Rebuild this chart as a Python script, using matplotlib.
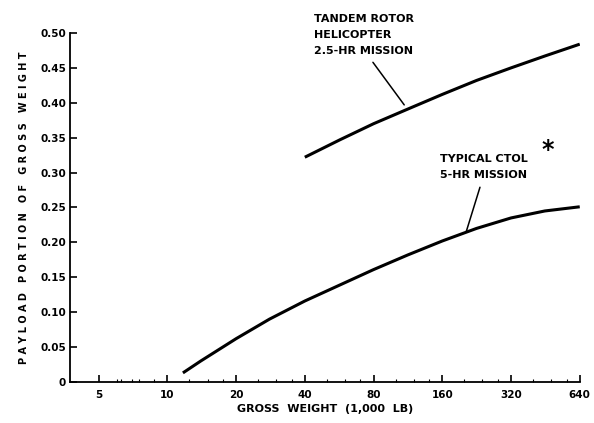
import numpy as np
import matplotlib
matplotlib.use("Agg")
import matplotlib.pyplot as plt
from matplotlib.ticker import FixedLocator, NullFormatter

# gross weight (1,000 lb) vs payload fraction
heli_gw = [40, 57, 80, 113, 160, 226, 320, 450, 640]
heli_pl = [0.322, 0.347, 0.370, 0.391, 0.412, 0.432, 0.450, 0.467, 0.484]

ctol_gw = [11.7, 14, 20, 28, 40, 57, 80, 113, 160, 226, 320, 450, 640]
ctol_pl = [0.013, 0.030, 0.062, 0.090, 0.116, 0.139, 0.161, 0.182, 0.202, 0.220, 0.235, 0.245, 0.251]

x_ticks = [5, 10, 20, 40, 80, 160, 320, 640]
x_labels = ["5", "10", "20", "40", "80", "160", "320", "640"]
y_ticks = [0, 0.05, 0.10, 0.15, 0.20, 0.25, 0.30, 0.35, 0.40, 0.45, 0.50]
y_labels = ["0", "0.05", "0.10", "0.15", "0.20", "0.25", "0.30", "0.35", "0.40", "0.45", "0.50"]

plt.rcParams["font.family"] = "DejaVu Sans"
plt.rcParams["font.weight"] = "bold"

fig = plt.figure(figsize=(5.94, 4.23), dpi=100)
ax = fig.add_axes([0.118, 0.097, 0.858, 0.825])

ax.plot(heli_gw, heli_pl, color="black", lw=2.2, solid_capstyle="butt")
ax.plot(ctol_gw, ctol_pl, color="black", lw=2.2, solid_capstyle="butt")

ax.set_xscale("log", base=2)
ax.set_xlim(3.75, 640)
ax.set_ylim(0, 0.50)

ax.xaxis.set_major_locator(FixedLocator(x_ticks))
ax.set_xticklabels(x_labels)
minor = [v * f for v in [4] + x_ticks[:-1] for f in (1.25, 1.5, 1.75)]
minor = [m for m in minor if 3.75 < m < 640]
ax.xaxis.set_minor_locator(FixedLocator(minor))
ax.xaxis.set_minor_formatter(NullFormatter())
ax.set_yticks(y_ticks)
ax.set_yticklabels(y_labels)

ax.tick_params(axis="x", which="major", direction="in", length=5, width=1.2, labelsize=7.5, pad=6)
ax.tick_params(axis="x", which="minor", direction="in", length=2, width=0.8)
ax.tick_params(axis="y", direction="in", length=5, width=1.2, labelsize=7.5, pad=3)
for lab in ax.get_xticklabels() + ax.get_yticklabels():
    lab.set_fontweight("bold")

for s in ["top", "right"]:
    ax.spines[s].set_visible(False)
for s in ["left", "bottom"]:
    ax.spines[s].set_linewidth(1.3)

ax.set_xlabel("GROSS  WEIGHT  (1,000  LB)", fontsize=8, fontweight="bold", labelpad=3)
ax.set_ylabel("P A Y L O A D   P O R T I O N   O F   G R O S S   W E I G H T",
              fontsize=7, fontweight="bold", labelpad=8)

# annotations
ax.text(44, 0.527, "TANDEM ROTOR\nHELICOPTER\n2.5-HR MISSION", fontsize=8,
        fontweight="bold", ha="left", va="top", linespacing=1.75, clip_on=False)
ax.annotate("", xy=(109, 0.397), xytext=(79.5, 0.458),
            arrowprops=dict(arrowstyle="-", color="black", lw=1.1, shrinkA=0, shrinkB=0),
            annotation_clip=False)
ax.text(156, 0.326, "TYPICAL CTOL\n5-HR MISSION", fontsize=8,
        fontweight="bold", ha="left", va="top", linespacing=1.75)
ax.annotate("", xy=(204, 0.216), xytext=(234, 0.279),
            arrowprops=dict(arrowstyle="-", color="black", lw=1.1, shrinkA=0, shrinkB=0))
ax.text(464, 0.332, "*", fontsize=17, fontweight="bold", ha="center", va="center")

fig.savefig("out.png", dpi=100)
